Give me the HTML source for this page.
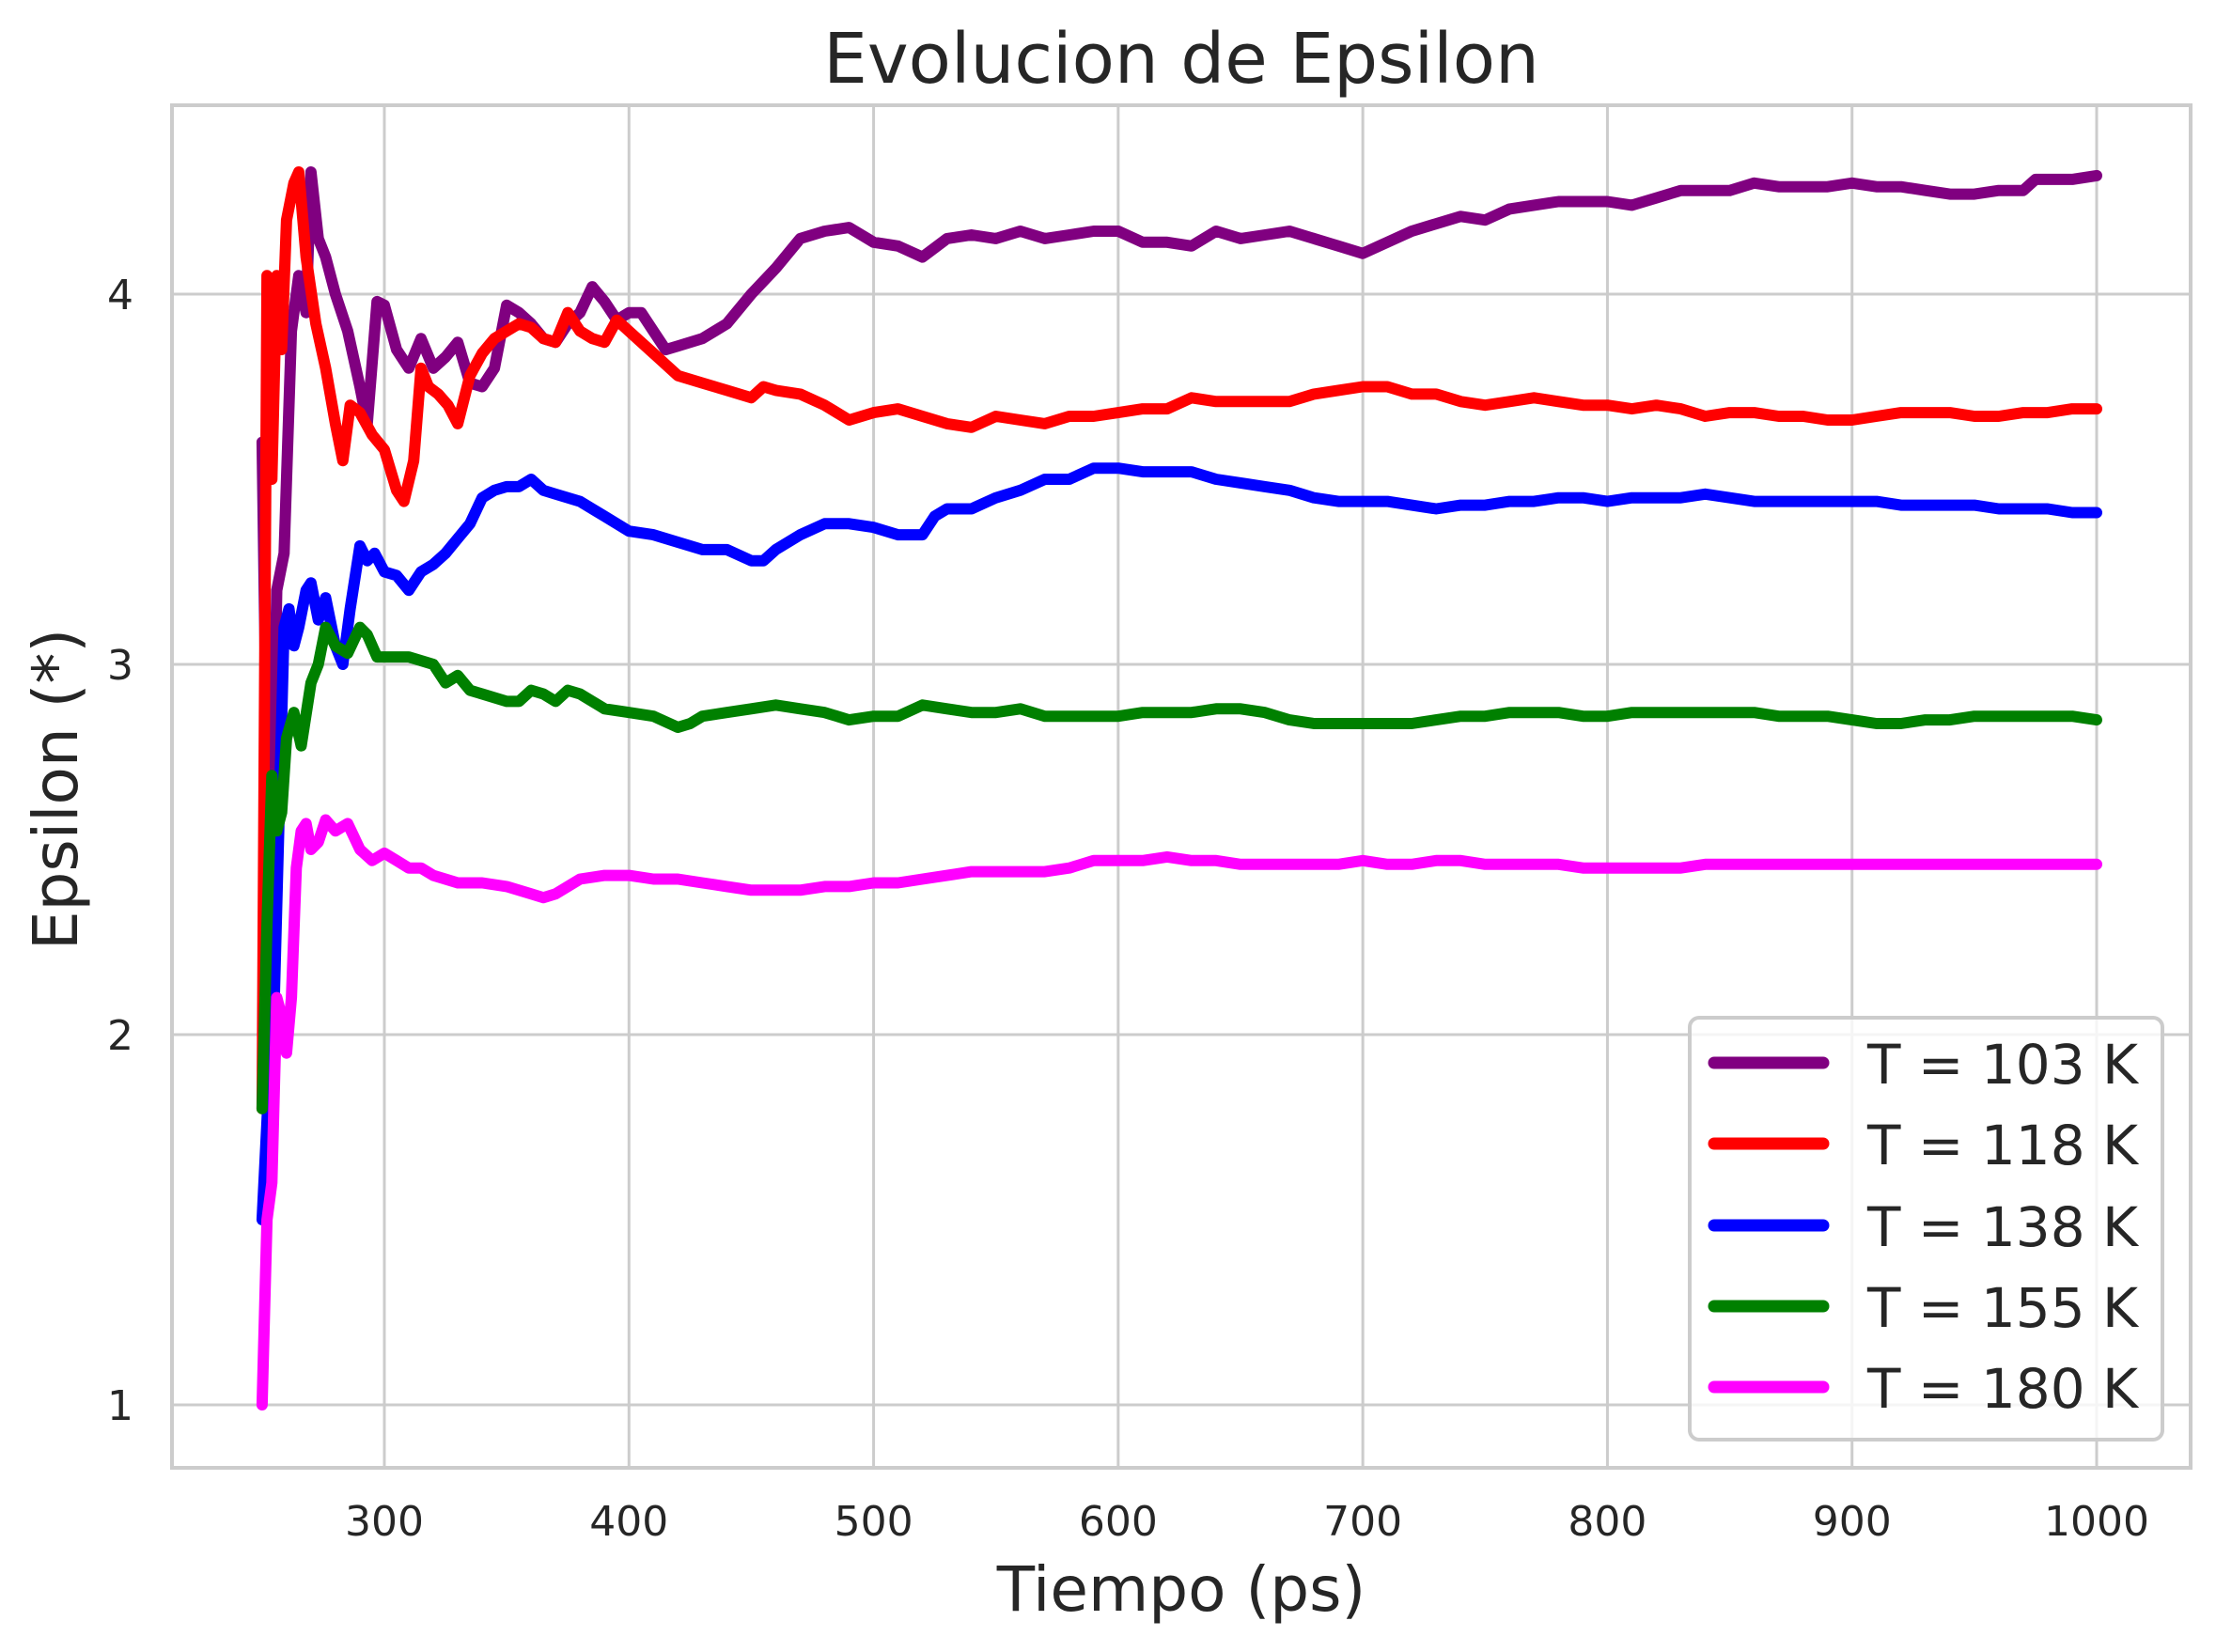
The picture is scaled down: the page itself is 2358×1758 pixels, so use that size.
<!DOCTYPE html>
<html><head><meta charset="utf-8"><style>
html,body{margin:0;padding:0;background:#fff;}
svg{display:block;font-family:"DejaVu Sans","Liberation Sans",sans-serif;}
</style></head><body>
<svg id="chart" width="2358" height="1758" viewBox="0 0 2358 1758" xmlns="http://www.w3.org/2000/svg">
<rect x="0" y="0" width="2358" height="1758" fill="#fff"/>
<g id="grid"></g>
<g id="series"></g>
<rect x="183" y="112" width="2148" height="1450" fill="none" stroke="#cccccc" stroke-width="4"/>
<g id="ticks"></g>
<text x="1257" y="88" font-size="74" text-anchor="middle" fill="#262626">Evolucion de Epsilon</text>
<text x="1257" y="1714" font-size="66" text-anchor="middle" fill="#262626">Tiempo (ps)</text>
<text x="0" y="0" font-size="66" text-anchor="middle" fill="#262626" transform="translate(82,840) rotate(-90)">Epsilon (*)</text>
<g id="legend"></g>
</svg>
<script>
const xTicks=[300,400,500,600,700,800,900,1000];
const yTicks=[1,2,3,4];
const labels=["T = 103 K","T = 118 K","T = 138 K","T = 155 K","T = 180 K"];
const colors=["#800080","#ff0000","#0000ff","#008000","#ff00ff"];
const s103=[[250,3.6],[253,2.2],[256,3.2],[259,3.3],[262,3.9],[265,4.05],[268,3.95],[270,4.33],[273,4.15],[276,4.1],[280,4.0],[285,3.9],[290,3.75],[293,3.65],[297,3.98],[300,3.97],[305,3.85],[310,3.8],[315,3.88],[320,3.8],[325,3.83],[330,3.87],[335,3.76],[340,3.75],[345,3.8],[350,3.97],[355,3.95],[360,3.92],[365,3.88],[370,3.87],[375,3.92],[380,3.95],[385,4.02],[390,3.98],[395,3.93],[400,3.95],[405,3.95],[410,3.9],[415,3.85],[420,3.86],[430,3.88],[440,3.92],[450,4.0],[460,4.07],[470,4.15],[480,4.17],[490,4.18],[500,4.14],[510,4.13],[520,4.1],[530,4.15],[540,4.16],[550,4.15],[560,4.17],[570,4.15],[580,4.16],[590,4.17],[600,4.17],[610,4.14],[620,4.14],[630,4.13],[640,4.17],[650,4.15],[660,4.16],[670,4.17],[680,4.15],[690,4.13],[700,4.11],[710,4.14],[720,4.17],[730,4.19],[740,4.21],[750,4.2],[760,4.23],[770,4.24],[780,4.25],[790,4.25],[800,4.25],[810,4.24],[820,4.26],[830,4.28],[840,4.28],[850,4.28],[860,4.3],[870,4.29],[880,4.29],[890,4.29],[900,4.3],[910,4.29],[920,4.29],[930,4.28],[940,4.27],[950,4.27],[960,4.28],[970,4.28],[975,4.31],[990,4.31],[1000,4.32]];
const s118=[[250,1.8],[252,4.05],[254,3.5],[256,4.05],[258,3.85],[260,4.2],[263,4.3],[265,4.33],[268,4.1],[272,3.92],[276,3.8],[280,3.65],[283,3.55],[286,3.7],[290,3.68],[295,3.62],[300,3.58],[305,3.47],[308,3.44],[312,3.55],[315,3.8],[318,3.75],[322,3.73],[326,3.7],[330,3.65],[335,3.78],[340,3.84],[345,3.88],[350,3.9],[355,3.92],[360,3.91],[365,3.88],[370,3.87],[375,3.95],[380,3.9],[385,3.88],[390,3.87],[395,3.93],[400,3.9],[410,3.84],[420,3.78],[430,3.76],[440,3.74],[450,3.72],[455,3.75],[460,3.74],[470,3.73],[480,3.7],[490,3.66],[500,3.68],[510,3.69],[520,3.67],[530,3.65],[540,3.64],[550,3.67],[560,3.66],[570,3.65],[580,3.67],[590,3.67],[600,3.68],[610,3.69],[620,3.69],[630,3.72],[640,3.71],[650,3.71],[660,3.71],[670,3.71],[680,3.73],[690,3.74],[700,3.75],[710,3.75],[720,3.73],[730,3.73],[740,3.71],[750,3.7],[760,3.71],[770,3.72],[780,3.71],[790,3.7],[800,3.7],[810,3.69],[820,3.7],[830,3.69],[840,3.67],[850,3.68],[860,3.68],[870,3.67],[880,3.67],[890,3.66],[900,3.66],[910,3.67],[920,3.68],[930,3.68],[940,3.68],[950,3.67],[960,3.67],[970,3.68],[980,3.68],[990,3.69],[1000,3.69]];
const s138=[[250,1.5],[253,1.9],[255,2.1],[257,2.6],[259,3.1],[261,3.15],[263,3.05],[265,3.1],[268,3.2],[270,3.22],[273,3.12],[276,3.18],[280,3.05],[283,3.0],[286,3.15],[290,3.32],[293,3.28],[296,3.3],[300,3.25],[305,3.24],[310,3.2],[315,3.25],[320,3.27],[325,3.3],[330,3.34],[335,3.38],[340,3.45],[345,3.47],[350,3.48],[355,3.48],[360,3.5],[365,3.47],[370,3.46],[380,3.44],[390,3.4],[400,3.36],[410,3.35],[420,3.33],[430,3.31],[440,3.31],[450,3.28],[455,3.28],[460,3.31],[470,3.35],[480,3.38],[490,3.38],[500,3.37],[510,3.35],[520,3.35],[525,3.4],[530,3.42],[540,3.42],[550,3.45],[560,3.47],[570,3.5],[580,3.5],[590,3.53],[600,3.53],[610,3.52],[620,3.52],[630,3.52],[640,3.5],[650,3.49],[660,3.48],[670,3.47],[680,3.45],[690,3.44],[700,3.44],[710,3.44],[720,3.43],[730,3.42],[740,3.43],[750,3.43],[760,3.44],[770,3.44],[780,3.45],[790,3.45],[800,3.44],[810,3.45],[820,3.45],[830,3.45],[840,3.46],[850,3.45],[860,3.44],[870,3.44],[880,3.44],[890,3.44],[900,3.44],[910,3.44],[920,3.43],[930,3.43],[940,3.43],[950,3.43],[960,3.42],[970,3.42],[980,3.42],[990,3.41],[1000,3.41]];
const s155=[[250,1.8],[252,2.3],[254,2.7],[256,2.55],[258,2.6],[260,2.8],[263,2.87],[266,2.78],[270,2.95],[273,3.0],[276,3.1],[280,3.05],[285,3.03],[290,3.1],[293,3.08],[297,3.02],[300,3.02],[310,3.02],[320,3.0],[325,2.95],[330,2.97],[335,2.93],[340,2.92],[350,2.9],[355,2.9],[360,2.93],[365,2.92],[370,2.9],[375,2.93],[380,2.92],[385,2.9],[390,2.88],[400,2.87],[410,2.86],[420,2.83],[425,2.84],[430,2.86],[440,2.87],[450,2.88],[460,2.89],[470,2.88],[480,2.87],[490,2.85],[500,2.86],[510,2.86],[520,2.89],[530,2.88],[540,2.87],[550,2.87],[560,2.88],[570,2.86],[580,2.86],[590,2.86],[600,2.86],[610,2.87],[620,2.87],[630,2.87],[640,2.88],[650,2.88],[660,2.87],[670,2.85],[680,2.84],[690,2.84],[700,2.84],[710,2.84],[720,2.84],[730,2.85],[740,2.86],[750,2.86],[760,2.87],[770,2.87],[780,2.87],[790,2.86],[800,2.86],[810,2.87],[820,2.87],[830,2.87],[840,2.87],[850,2.87],[860,2.87],[870,2.86],[880,2.86],[890,2.86],[900,2.85],[910,2.84],[920,2.84],[930,2.85],[940,2.85],[950,2.86],[960,2.86],[970,2.86],[980,2.86],[990,2.86],[1000,2.85]];
const s180=[[250,1.0],[252,1.5],[254,1.6],[256,2.1],[258,2.05],[260,1.95],[262,2.1],[264,2.45],[266,2.55],[268,2.57],[270,2.5],[273,2.52],[276,2.58],[280,2.55],[285,2.57],[290,2.5],[295,2.47],[300,2.49],[305,2.47],[310,2.45],[315,2.45],[320,2.43],[330,2.41],[340,2.41],[350,2.4],[360,2.38],[365,2.37],[370,2.38],[380,2.42],[390,2.43],[400,2.43],[410,2.42],[420,2.42],[430,2.41],[440,2.4],[450,2.39],[460,2.39],[470,2.39],[480,2.4],[490,2.4],[500,2.41],[510,2.41],[520,2.42],[530,2.43],[540,2.44],[550,2.44],[560,2.44],[570,2.44],[580,2.45],[590,2.47],[600,2.47],[610,2.47],[620,2.48],[630,2.47],[640,2.47],[650,2.46],[660,2.46],[670,2.46],[680,2.46],[690,2.46],[700,2.47],[710,2.46],[720,2.46],[730,2.47],[740,2.47],[750,2.46],[760,2.46],[770,2.46],[780,2.46],[790,2.45],[800,2.45],[810,2.45],[820,2.45],[830,2.45],[840,2.46],[850,2.46],[860,2.46],[870,2.46],[880,2.46],[890,2.46],[900,2.46],[920,2.46],[940,2.46],[960,2.46],[980,2.46],[1000,2.46]];
const seriesNames=["series-103k","series-118k","series-138k","series-155k","series-180k"];
const allSeries=[s103,s118,s138,s155,s180];

const NS="http://www.w3.org/2000/svg";
function xScale(v){return 409+(v-300)*(2231-409)/700;}
function yScale(v){return 1495-(v-1)*394;}
function mk(tag,attrs,parent){const e=document.createElementNS(NS,tag);for(const k in attrs)e.setAttribute(k,attrs[k]);parent.appendChild(e);return e;}
const grid=document.getElementById('grid'),ticks=document.getElementById('ticks'),ser=document.getElementById('series'),leg=document.getElementById('legend');
xTicks.forEach(t=>{
  const l=mk('line',{x1:xScale(t),x2:xScale(t),y1:112,y2:1562,stroke:'#cccccc','stroke-width':3},grid);
  
  
  const tx=mk('text',{x:xScale(t),y:1634,'font-size':44,'text-anchor':'middle',fill:'#262626'},ticks);
  tx.textContent=t;
  
  
});
yTicks.forEach(t=>{
  const l=mk('line',{x1:183,x2:2331,y1:yScale(t),y2:yScale(t),stroke:'#cccccc','stroke-width':3},grid);
  
  
  const tx=mk('text',{x:142,y:yScale(t)+16,'font-size':44,'text-anchor':'end',fill:'#262626'},ticks);
  tx.textContent=t;
  
  
});
allSeries.forEach((s,i)=>{
  const d=s.map((p,j)=>(j?'L':'M')+xScale(p[0]).toFixed(1)+' '+yScale(p[1]).toFixed(1)).join(' ');
  const p=mk('path',{d:d,fill:'none',stroke:colors[i],'stroke-width':12,'stroke-linejoin':'round','stroke-linecap':'round'},ser);
  
  
});
const box=mk('rect',{x:1798,y:1083,width:503,height:449,rx:10,fill:'#ffffff','fill-opacity':0.8,stroke:'#cccccc','stroke-width':4},leg);


const rowY=[1131,1217,1304,1390,1476];
labels.forEach((lab,i)=>{
  const g=mk('g',{},leg);
  
  
  mk('line',{x1:1824,x2:1940,y1:rowY[i],y2:rowY[i],stroke:colors[i],'stroke-width':13,'stroke-linecap':'round'},g);
  const tx=mk('text',{x:1987,y:rowY[i]+22,'font-size':58,fill:'#262626'},g);
  tx.textContent=lab;
});
</script>
</body></html>
